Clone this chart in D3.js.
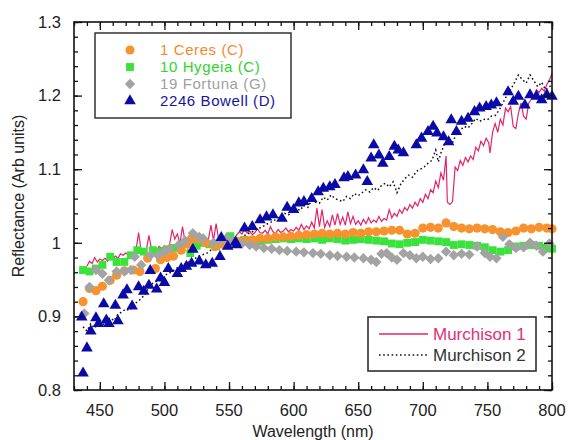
<!DOCTYPE html>
<html>
<head>
<meta charset="utf-8">
<script src="https://cdn.jsdelivr.net/npm/d3@7"></script>
<style>
  body { margin: 0; background: #fff; }
  text { font-family: "Liberation Sans", Arial, sans-serif; }
</style>
</head>
<body>
<div id="chart"></div>
<script>
// reflectance spectra, [wavelength nm, reflectance]
var ceres = [
  [437,0.920],[442,0.938],[447,0.935],[452,0.941],[458,0.949],[463,0.956],[469,0.962],[476,0.963],
  [481,0.961],[487,0.979],[493,0.965],[497,0.977],[502,0.980],[507,0.982],[513,0.990],[518,0.998],
  [521,1.006],[526,1.005],[532,1.000],[539,0.995],[545,0.998],[550,1.000],[556,1.002],[562,1.003],
  [568,1.004],[574,1.006],[580,1.006],[586,1.008],[592,1.008],[598,1.009],[604,1.010],[610,1.011],
  [616,1.012],[622,1.013],[628,1.012],[634,1.013],[640,1.012],[646,1.014],[652,1.013],[658,1.015],
  [664,1.015],[670,1.016],[676,1.017],[682,1.017],[688,1.012],[694,1.013],[700,1.020],[706,1.021],
  [712,1.020],[718,1.027],[724,1.022],[730,1.020],[736,1.019],[742,1.020],[748,1.019],[754,1.018],
  [760,1.015],[766,1.014],[772,1.016],[778,1.020],[784,1.019],[790,1.021],[796,1.020],[800,1.019]
];

var hygeia = [
  [437,0.963],[442,0.961],[447,0.965],[452,0.970],[458,0.981],[463,0.974],[469,0.974],[474,0.983],
  [479,0.990],[484,0.988],[491,0.990],[496,0.988],[502,0.991],[507,0.993],[512,0.995],[520,0.986],
  [525,0.996],[530,1.000],[535,0.998],[540,0.995],[545,1.002],[551,1.009],[556,1.002],[562,1.004],
  [568,1.003],[574,1.002],[580,1.004],[586,1.005],[592,1.006],[598,1.005],[604,1.006],[610,1.005],
  [616,1.006],[622,1.004],[628,1.006],[634,1.005],[640,1.003],[646,1.004],[652,1.005],[658,1.004],
  [664,1.003],[670,1.002],[676,0.999],[682,0.998],[688,1.000],[694,1.001],[700,1.004],[706,1.003],
  [712,1.002],[718,1.001],[724,0.997],[730,0.998],[736,0.997],[742,0.996],[748,0.994],[754,0.990],
  [760,0.988],[766,0.990],[772,0.995],[778,0.996],[784,0.997],[790,0.996],[796,0.993],[800,0.992]
];

var fortuna = [
  [438,0.904],[442,0.940],[447,0.963],[452,0.958],[457,0.949],[463,0.961],[469,0.961],[474,0.963],
  [477,0.981],[482,0.970],[489,0.983],[495,0.983],[500,0.988],[504,0.992],[511,0.997],[516,1.003],
  [522,1.013],[527,1.008],[530,1.006],[538,1.000],[543,1.003],[548,1.006],[553,1.002],[560,0.999],
  [566,0.997],[571,0.995],[577,0.993],[583,0.992],[589,0.990],[595,0.989],[602,0.988],[608,0.987],
  [615,0.986],[621,0.985],[628,0.983],[634,0.982],[641,0.981],[647,0.980],[654,0.979],[660,0.977],
  [664,0.974],[668,0.985],[672,0.986],[676,0.980],[680,0.977],[685,0.986],[690,0.983],[695,0.979],
  [700,0.981],[706,0.978],[712,0.979],[718,0.988],[724,0.983],[730,0.985],[736,0.984],[742,0.995],
  [748,0.986],[752,0.981],[757,0.979],[762,1.008],[767,0.998],[772,0.993],[778,0.994],[783,1.000],
  [788,0.996],[793,0.988],[798,0.999]
];

var bowell = [
  [436,0.899],[437,0.823],[440,0.857],[443,0.880],[447,0.898],[449,0.890],[453,0.917],[455,0.895],
  [457,0.890],[462,0.915],[464,0.894],[468,0.929],[471,0.936],[475,0.914],[480,0.940],[484,0.934],
  [488,0.942],[489,0.962],[494,0.937],[497,0.952],[500,0.946],[503,0.965],[510,0.958],[513,0.965],
  [517,0.968],[521,0.972],[522,0.991],[527,0.975],[532,0.970],[537,0.972],[543,0.981],[544,1.007],
  [549,0.995],[555,1.001],[556,0.997],[562,1.020],[568,1.022],[574,1.031],[579,1.035],[584,1.038],
  [591,1.033],[595,1.048],[600,1.045],[604,1.054],[608,1.056],[614,1.060],[619,1.069],[623,1.074],
  [628,1.076],[632,1.079],[639,1.088],[642,1.090],[648,1.092],[654,1.099],[657,1.083],[660,1.115],
  [662,1.133],[666,1.119],[669,1.108],[674,1.117],[678,1.131],[681,1.126],[685,1.122],[695,1.133],
  [699,1.142],[704,1.151],[708,1.158],[711,1.149],[716,1.144],[720,1.137],[722,1.167],[726,1.151],
  [730,1.165],[735,1.169],[740,1.178],[744,1.183],[749,1.185],[753,1.187],[757,1.190],[766,1.205],
  [770,1.192],[774,1.199],[779,1.187],[783,1.201],[788,1.199],[792,1.194],[796,1.201],[800,1.199]
];

var murchison1 = [
  [440,0.968],[442,0.975],[444,0.972],[446,0.980],[448,0.974],[450,0.978],[452,0.976],[454,0.979],
  [456,0.975],[458,0.980],[460,0.978],[462,0.982],[464,0.979],[466,0.985],[468,0.983],[470,0.986],
  [472,0.984],[474,0.987],[476,0.985],[478,0.990],[480,1.014],[482,0.988],[484,0.992],[486,0.990],
  [488,1.010],[490,0.991],[492,0.993],[494,0.990],[496,0.995],[498,0.992],[500,0.996],[502,0.994],
  [504,0.998],[506,1.018],[508,1.005],[510,1.012],[512,0.999],[514,1.022],[516,1.001],[518,1.004],
  [520,0.998],[522,1.003],[524,1.000],[526,1.005],[528,1.002],[530,1.006],[532,1.002],[534,1.004],
  [536,1.024],[538,1.003],[540,1.026],[542,1.004],[544,1.010],[546,1.005],[548,1.012],[550,1.006],
  [552,1.010],[554,1.004],[556,1.011],[558,1.015],[560,1.012],[562,1.018],[564,1.013],[566,1.016],
  [568,1.011],[570,1.014],[572,1.019],[574,1.014],[576,1.013],[578,1.017],[580,1.012],[582,1.022],
  [584,1.015],[586,1.013],[588,1.018],[590,1.014],[592,1.016],[594,1.020],[596,1.015],[598,1.018],
  [600,1.016],[602,1.021],[604,1.017],[606,1.025],[608,1.018],[610,1.023],[612,1.019],[614,1.028],
  [616,1.020],[618,1.047],[620,1.022],[622,1.045],[624,1.021],[626,1.030],[628,1.022],[630,1.038],
  [632,1.024],[634,1.040],[636,1.025],[638,1.035],[640,1.024],[642,1.042],[644,1.026],[646,1.036],
  [648,1.025],[650,1.030],[652,1.024],[654,1.032],[656,1.026],[658,1.034],[660,1.027],[662,1.031],
  [664,1.028],[666,1.036],[668,1.029],[670,1.033],[672,1.031],[674,1.045],[676,1.034],[678,1.040],
  [680,1.036],[682,1.045],[684,1.040],[686,1.048],[688,1.044],[690,1.052],[692,1.047],[694,1.055],
  [696,1.050],[698,1.060],[700,1.055],[702,1.066],[704,1.060],[706,1.072],[708,1.068],[710,1.084],
  [712,1.075],[714,1.095],[716,1.085],[718,1.118],[719,1.055],[721,1.052],[723,1.056],[725,1.103],
  [727,1.098],[729,1.112],[731,1.105],[733,1.116],[735,1.110],[737,1.118],[739,1.113],[741,1.130],
  [743,1.125],[745,1.138],[747,1.132],[749,1.142],[751,1.136],[752,1.122],[754,1.150],[756,1.162],
  [758,1.150],[760,1.168],[762,1.160],[764,1.183],[766,1.178],[768,1.185],[770,1.158],[772,1.155],
  [774,1.176],[776,1.190],[778,1.172],[780,1.168],[782,1.190],[784,1.195],[786,1.200],[788,1.208],
  [790,1.204],[792,1.210],[794,1.206],[796,1.215],[798,1.221],[800,1.230]
];

var murchison2 = [
  [437,0.886],[440,0.880],[443,0.890],[446,0.884],[449,0.892],[452,0.887],[455,0.895],[458,0.898],
  [461,0.894],[464,0.903],[467,0.906],[470,0.910],[473,0.908],[476,0.915],[479,0.920],[482,0.924],
  [485,0.930],[488,0.940],[491,0.945],[494,0.948],[497,0.953],[500,0.956],[503,0.958],[506,0.961],
  [509,0.965],[512,0.968],[515,0.970],[518,0.973],[521,0.976],[524,0.979],[527,0.982],[530,0.984],
  [533,0.986],[536,0.990],[539,0.993],[542,0.995],[545,0.997],[548,0.999],[551,1.001],[554,1.003],
  [557,1.006],[560,1.008],[563,1.011],[566,1.013],[569,1.016],[572,1.019],[575,1.021],[578,1.024],
  [581,1.027],[584,1.029],[587,1.033],[590,1.036],[593,1.040],[596,1.038],[599,1.044],[602,1.047],
  [605,1.044],[608,1.051],[611,1.048],[614,1.058],[617,1.055],[620,1.054],[623,1.062],[626,1.058],
  [629,1.065],[632,1.060],[635,1.058],[638,1.056],[641,1.063],[644,1.060],[647,1.067],[650,1.064],
  [653,1.068],[656,1.072],[659,1.069],[662,1.075],[665,1.071],[668,1.078],[671,1.081],[674,1.076],
  [677,1.083],[680,1.068],[683,1.080],[686,1.087],[689,1.092],[692,1.089],[695,1.097],[698,1.100],
  [701,1.103],[704,1.108],[707,1.112],[710,1.126],[712,1.110],[714,1.122],[717,1.135],[720,1.140],
  [723,1.136],[726,1.148],[729,1.153],[732,1.158],[735,1.156],[738,1.162],[741,1.169],[744,1.165],
  [747,1.168],[750,1.167],[753,1.172],[756,1.173],[759,1.180],[762,1.190],[765,1.200],[768,1.208],
  [771,1.218],[774,1.228],[777,1.222],[780,1.217],[783,1.228],[786,1.220],[789,1.212],[792,1.218],
  [795,1.208],[798,1.212],[800,1.215]
];

var xTicks = [450, 500, 550, 600, 650, 700, 750, 800];
var yTicks = [0.8, 0.9, 1.0, 1.1, 1.2, 1.3];
var yTickLabels = ["0.8", "0.9", "1", "1.1", "1.2", "1.3"];
var legendAsteroids = ["1 Ceres (C)", "10 Hygeia (C)", "19 Fortuna (G)", "2246 Bowell (D)"];
var legendLab = ["Murchison 1", "Murchison 2"];

// set the dimensions and margins of the graph
var margin = {top: 22, right: 16, bottom: 50, left: 74},
    width = 568 - margin.left - margin.right,
    height = 440 - margin.top - margin.bottom;

var colors = {
    ceres: "#f7922e",
    hygeia: "#39e33c",
    fortuna: "#a3a3a3",
    bowell: "#0a0aa6",
    m1: "#e3246a",
    m2: "#111111"
};

var x = d3.scaleLinear().domain([430, 800]).range([0, width]);
var y = d3.scaleLinear().domain([0.8, 1.3]).range([height, 0]);

var svg = d3.select("#chart").append("svg")
    .attr("width", 568)
    .attr("height", 440)
  .append("g")
    .attr("transform", "translate(" + margin.left + "," + margin.top + ")");

var line = d3.line()
    .x(function(d) { return x(d[0]); })
    .y(function(d) { return y(d[1]); });

// lab spectra
svg.append("path")
    .datum(murchison1)
    .attr("d", line)
    .attr("fill", "none")
    .attr("stroke", colors.m1)
    .attr("stroke-width", 1.2);

svg.append("path")
    .datum(murchison2)
    .attr("d", line)
    .attr("fill", "none")
    .attr("stroke", colors.m2)
    .attr("stroke-width", 1.5)
    .attr("stroke-dasharray", "1.6,2.6");

// asteroid markers
function drawPoints(data, type, size, color, rotate) {
    var sym = d3.symbol().type(type).size(size);
    svg.append("g").selectAll("path")
        .data(data)
        .enter().append("path")
        .attr("d", sym)
        .attr("fill", color)
        .attr("transform", function(d) {
            return "translate(" + x(d[0]) + "," + y(d[1]) + ")" + (rotate ? " rotate(45)" : "");
        });
}

drawPoints(hygeia, d3.symbolSquare, 62, colors.hygeia, false);
drawPoints(ceres, d3.symbolCircle, 66, colors.ceres, false);
drawPoints(fortuna, d3.symbolSquare, 54, colors.fortuna, true);
drawPoints(bowell, d3.symbolTriangle, 58, colors.bowell, false);

// axes with inward ticks on all four sides
var minorX = d3.range(430, 801, 10);
var minorY = d3.range(0.8, 1.3001, 0.02);

function tickSet(axis, scale, values, len) {
    return axis(scale).tickValues(values).tickSizeInner(-len).tickSizeOuter(0).tickFormat("");
}

svg.append("g").attr("class", "ax").attr("transform", "translate(0," + height + ")")
    .call(tickSet(d3.axisBottom, x, minorX, 4));
svg.append("g").attr("class", "ax").attr("transform", "translate(0," + height + ")")
    .call(tickSet(d3.axisBottom, x, xTicks, 8));
svg.append("g").attr("class", "ax")
    .call(tickSet(d3.axisTop, x, minorX, 4));
svg.append("g").attr("class", "ax")
    .call(tickSet(d3.axisTop, x, xTicks, 8));
svg.append("g").attr("class", "ax")
    .call(tickSet(d3.axisLeft, y, minorY, 4));
svg.append("g").attr("class", "ax")
    .call(tickSet(d3.axisLeft, y, yTicks, 8));
svg.append("g").attr("class", "ax").attr("transform", "translate(" + width + ",0)")
    .call(tickSet(d3.axisRight, y, minorY, 4));
svg.append("g").attr("class", "ax").attr("transform", "translate(" + width + ",0)")
    .call(tickSet(d3.axisRight, y, yTicks, 8));

svg.selectAll(".ax .domain").remove();
svg.selectAll(".ax line").attr("stroke", "#111").attr("stroke-width", 1.3);

svg.append("rect")
    .attr("width", width)
    .attr("height", height)
    .attr("fill", "none")
    .attr("stroke", "#111")
    .attr("stroke-width", 1.6);

// tick labels
svg.append("g").selectAll("text")
    .data(xTicks)
    .enter().append("text")
    .attr("x", function(d) { return x(d); })
    .attr("y", height + 26)
    .attr("text-anchor", "middle")
    .attr("font-size", 16.5)
    .attr("fill", "#222")
    .text(function(d) { return d; });

svg.append("g").selectAll("text")
    .data(yTicks)
    .enter().append("text")
    .attr("x", -13)
    .attr("y", function(d) { return y(d); })
    .attr("dy", "0.35em")
    .attr("text-anchor", "end")
    .attr("font-size", 16.5)
    .attr("fill", "#222")
    .text(function(d, i) { return yTickLabels[i]; });

// axis titles
svg.append("text")
    .attr("x", width / 2)
    .attr("y", height + 47)
    .attr("text-anchor", "middle")
    .attr("font-size", 16)
    .attr("fill", "#222")
    .text("Wavelength (nm)");

svg.append("text")
    .attr("transform", "translate(" + (-50) + "," + (height / 2 - 10) + ") rotate(-90)")
    .attr("text-anchor", "middle")
    .attr("font-size", 16)
    .attr("fill", "#222")
    .text("Reflectance (Arb units)");

// asteroid legend
var leg1 = svg.append("g").attr("transform", "translate(21,11)");
leg1.append("rect")
    .attr("width", 196)
    .attr("height", 85)
    .attr("fill", "#fff")
    .attr("stroke", "#333")
    .attr("stroke-width", 1.5);

var legSyms = [
    {type: d3.symbolCircle, size: 66, color: colors.ceres, rot: false},
    {type: d3.symbolSquare, size: 62, color: colors.hygeia, rot: false},
    {type: d3.symbolSquare, size: 54, color: colors.fortuna, rot: true},
    {type: d3.symbolTriangle, size: 58, color: colors.bowell, rot: false}
];
var legTextColors = ["#f28a2a", "#2fd32f", "#a0a0a0", "#1515a0"];

legendAsteroids.forEach(function(name, i) {
    var s = legSyms[i];
    leg1.append("path")
        .attr("d", d3.symbol().type(s.type).size(s.size))
        .attr("fill", s.color)
        .attr("transform", "translate(35," + (17 + i * 17) + ")" + (s.rot ? " rotate(45)" : ""));
    leg1.append("text")
        .attr("x", 65)
        .attr("y", 17 + i * 17)
        .attr("dy", "0.35em")
        .attr("font-size", 15)
        .attr("letter-spacing", 0.6)
        .attr("fill", legTextColors[i])
        .text(name);
});

// lab legend
var leg2 = svg.append("g").attr("transform", "translate(294,295)");
leg2.append("rect")
    .attr("width", 168)
    .attr("height", 54)
    .attr("fill", "#fff")
    .attr("stroke", "#222")
    .attr("stroke-width", 1.5);

var labStyles = [
    {color: colors.m1, dash: null, width: 1.3, text: "#e0307a"},
    {color: colors.m2, dash: "1.6,2.6", width: 1.5, text: "#333"}
];

legendLab.forEach(function(name, i) {
    var st = labStyles[i];
    leg2.append("line")
        .attr("x1", 11).attr("x2", 60)
        .attr("y1", 17 + i * 21).attr("y2", 17 + i * 21)
        .attr("stroke", st.color)
        .attr("stroke-width", st.width)
        .attr("stroke-dasharray", st.dash);
    leg2.append("text")
        .attr("x", 65)
        .attr("y", 17 + i * 21)
        .attr("dy", "0.35em")
        .attr("font-size", 17)
        .attr("fill", st.text)
        .text(name);
});
</script>
</body>
</html>
